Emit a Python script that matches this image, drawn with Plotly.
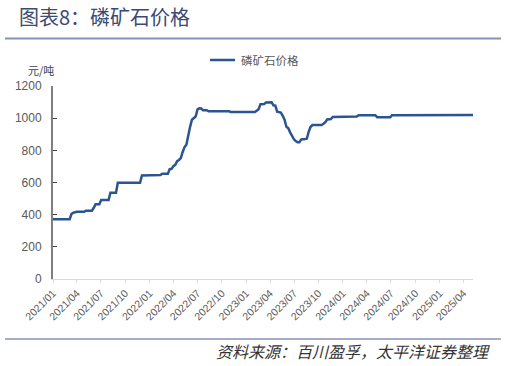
import plotly.graph_objects as go

# ---- data ----
dates = [
    "2021-01-01", "2021-03-05", "2021-03-12", "2021-03-19", "2021-04-01", "2021-04-28",
    "2021-05-05", "2021-05-28", "2021-06-04", "2021-06-11", "2021-06-25", "2021-07-02",
    "2021-07-30", "2021-08-06", "2021-08-27", "2021-09-03", "2021-11-26", "2021-12-03",
    "2022-02-11", "2022-02-18", "2022-03-11", "2022-03-18", "2022-03-25", "2022-04-01",
    "2022-04-08", "2022-04-15", "2022-04-22", "2022-04-29", "2022-05-06", "2022-05-13",
    "2022-05-20", "2022-05-27", "2022-06-03", "2022-06-10", "2022-06-17", "2022-06-24",
    "2022-07-01", "2022-07-08", "2022-07-15", "2022-07-22", "2022-08-05", "2022-08-12",
    "2022-10-28", "2022-11-04", "2023-02-03", "2023-02-10", "2023-02-17", "2023-02-24",
    "2023-03-10", "2023-03-17", "2023-04-07", "2023-04-14", "2023-04-21", "2023-04-28",
    "2023-05-12", "2023-05-19", "2023-05-26", "2023-06-02", "2023-06-09", "2023-06-16",
    "2023-06-23", "2023-06-30", "2023-07-07", "2023-07-14", "2023-07-21", "2023-07-28",
    "2023-08-11", "2023-08-18", "2023-08-25", "2023-09-01", "2023-09-08", "2023-10-13",
    "2023-10-20", "2023-10-27", "2023-11-03", "2023-11-17", "2023-11-24", "2024-02-23",
    "2024-03-01", "2024-05-03", "2024-05-10", "2024-06-28", "2024-07-05", "2025-05-07",
]
prices = [
    372, 372, 405, 412, 418, 418,
    424, 424, 443, 464, 464, 491,
    491, 536, 536, 598, 598, 644,
    646, 654, 654, 683, 685, 702,
    710, 733, 740, 752, 790, 820,
    835, 900, 946, 990, 1000, 1010,
    1055, 1062, 1060, 1050, 1050, 1043,
    1043, 1039, 1039, 1050, 1056, 1087,
    1088, 1097, 1099, 1080, 1078, 1040,
    1035, 1015, 990, 946, 938, 912,
    890, 870, 858, 851, 851, 868,
    870, 872, 915, 945, 957, 957,
    965, 975, 992, 995, 1008, 1010,
    1018, 1018, 1005, 1005, 1018, 1020,
]
series_name = "磷矿石价格"
y_ticks = [0, 200, 400, 600, 800, 1000, 1200]

# ---- geometry helpers (pixel -> paper) ----
W, H = 507, 366
L, R, T, B = 53, 473, 86, 279


def px(x):
    return (x - L) / (R - L)


def py(y):
    return (B - y) / (B - T)


CJK = "Noto Sans CJK SC"
LAT = "Liberation Sans, Arial, sans-serif"
LINE_COLOR = "#2b5591"

fig = go.Figure()
fig.add_trace(go.Scatter(
    x=dates, y=prices, mode="lines", name=series_name,
    line=dict(color=LINE_COLOR, width=2.5), showlegend=False,
))

fig.update_layout(
    width=W, height=H,
    margin=dict(l=L, r=W - R, t=T, b=H - B, autoexpand=False),
    paper_bgcolor="white", plot_bgcolor="white",
    showlegend=False,
    xaxis=dict(
        type="date",
        range=["2021-01-01", "2025-05-07"],
        tick0="2021-01-01", dtick="M3", tickformat="%Y/%m",
        tickangle=-45, automargin=False,
        tickfont=dict(family=LAT, size=10.5, color="#595959"),
        showgrid=False, zeroline=False,
        showline=True, linecolor="#d9d9d9", linewidth=1,
        ticks="outside", ticklen=3, tickcolor="#d9d9d9",
    ),
    yaxis=dict(
        range=[0, 1200], tickvals=y_ticks, automargin=False,
        tickfont=dict(family=LAT, size=12, color="#595959"),
        showgrid=False, zeroline=False,
        showline=True, linecolor="#7f7f7f", linewidth=2,
        ticks="inside", ticklen=4, tickcolor="#404040",
        ticklabelstandoff=7,
    ),
)

# legend (drawn as a line sample and its label)
fig.add_shape(type="line", xref="paper", yref="paper",
              x0=px(210), x1=px(235), y0=py(60), y1=py(60),
              line=dict(color=LINE_COLOR, width=2.5))
fig.add_annotation(
    x=px(239), y=py(60), xref="paper", yref="paper",
    xanchor="left", yanchor="middle", showarrow=False,
    text=series_name, font=dict(family=CJK, size=11.5, color="#595959"),
)

# title
fig.add_annotation(
    x=px(17), y=py(16), xref="paper", yref="paper",
    xanchor="left", yanchor="middle", showarrow=False,
    text="图表8：磷矿石价格",
    font=dict(family=CJK, size=20, color="#3b4a75"),
)
# rules under title and above source
fig.add_shape(type="line", xref="paper", yref="paper",
              x0=px(5), x1=px(501), y0=py(38.5), y1=py(38.5),
              line=dict(color="#8a8fb8", width=2))
fig.add_shape(type="line", xref="paper", yref="paper",
              x0=px(5), x1=px(501), y0=py(339), y1=py(339),
              line=dict(color="#8a8fb8", width=1.5))
# unit label
fig.add_annotation(
    x=px(41), y=py(70), xref="paper", yref="paper",
    xanchor="center", yanchor="middle", showarrow=False,
    text="元/吨", font=dict(family=CJK, size=11, color="#404040"),
)
# source
fig.add_annotation(
    x=px(492), y=py(351), xref="paper", yref="paper",
    xanchor="right", yanchor="middle", showarrow=False,
    text="<i>资料来源：百川盈孚，太平洋证券整理</i>",
    font=dict(family=CJK, size=16, color="#333333"),
)

fig.write_html(
    "out.html",
    config={"displayModeBar": False},
    post_script="document.body.style.margin='0';document.body.style.overflow='hidden';",
)
